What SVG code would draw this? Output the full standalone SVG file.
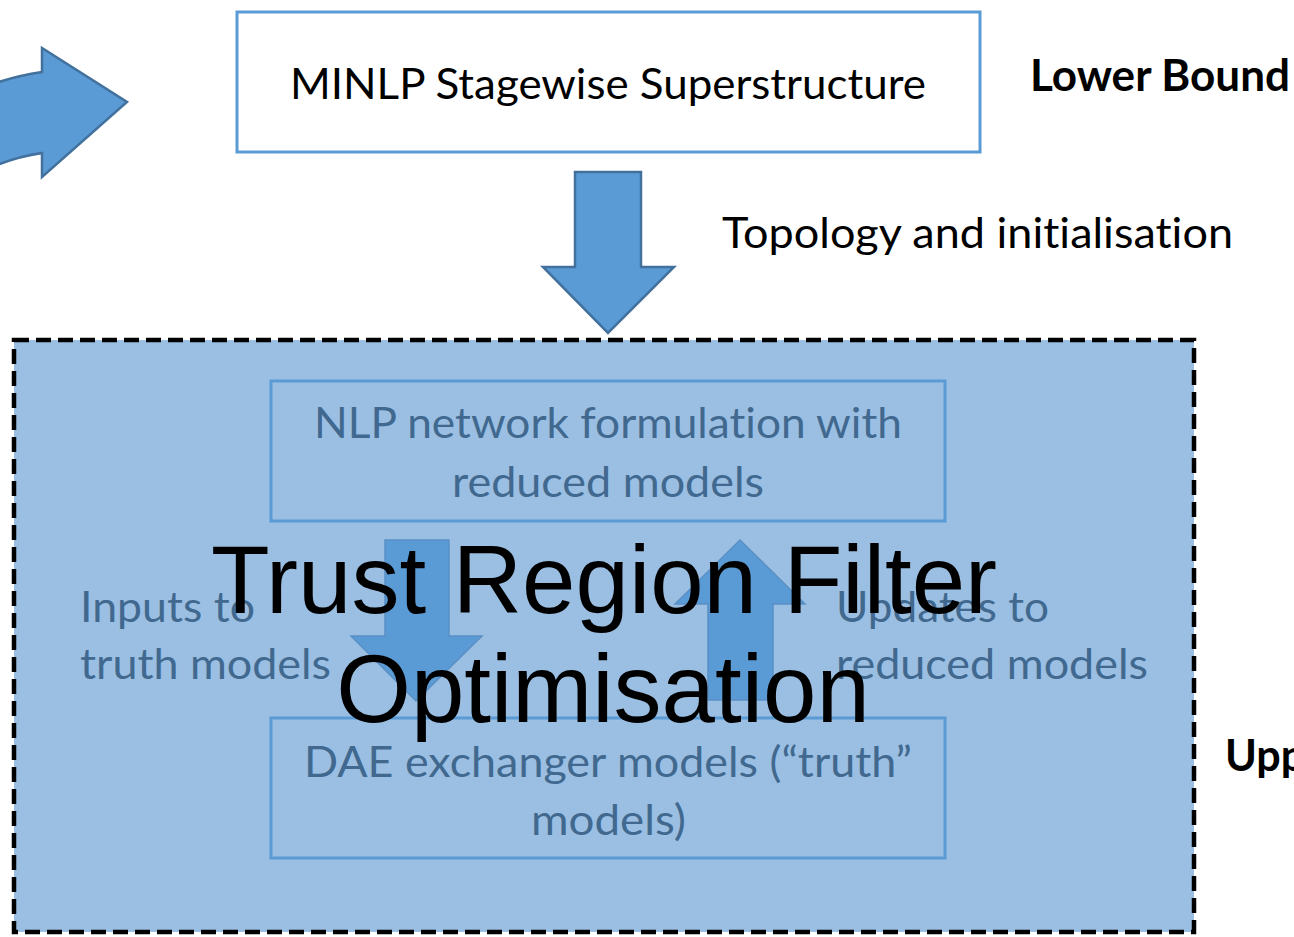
<svg xmlns="http://www.w3.org/2000/svg" width="1294" height="937" viewBox="0 0 1294 937">
  <style>
    .lbl { font-family: Lato, "Open Sans", "Liberation Sans", sans-serif; font-size: 43px; fill: #000; font-variant-ligatures: none; }
    .bold { font-weight: bold; }
    .dim { fill: #41698F; }
    .big { font-family: "Liberation Sans", Arial, sans-serif; font-size: 96px; fill: #000; text-anchor: middle; }
    .box { fill: #fff; stroke: #5B9BD5; stroke-width: 3; }
    .ibox { fill: none; stroke: #5B9BD5; stroke-width: 3; }
    .arrow { fill: #5B9BD5; stroke: #41719C; stroke-width: 2.5; stroke-linejoin: miter; }
    .iarrow { fill: #5B9BD5; stroke: #5A90C6; stroke-width: 1.5; }
  </style>

  <!-- incoming curved block arrow, partly off the left edge -->
  <g id="entry-arrow">
    <path class="arrow" d="M -10 85 Q 15 76 42 72 L 42 48 L 127 102 L 42 177 L 42 153 Q 15 157 -10 168 Z"/>
  </g>

  <!-- MINLP superstructure -->
  <g id="minlp">
    <rect class="box" x="237" y="12" width="743" height="140"/>
    <text class="lbl" x="290" y="99" textLength="636" lengthAdjust="spacingAndGlyphs">MINLP Stagewise Superstructure</text>
  </g>

  <g id="lower-bound">
    <text class="lbl bold" x="1030" y="91" textLength="260" lengthAdjust="spacingAndGlyphs">Lower Bound</text>
  </g>

  <!-- trust region filter block -->
  <g id="trf">
    <rect x="14" y="340" width="1180" height="592" fill="#9BBFE3" stroke="#000" stroke-width="4.5" stroke-dasharray="15 7"/>
  </g>

  <g id="nlp">
    <rect class="ibox" x="271" y="381" width="674" height="140"/>
    <text class="lbl dim" x="314" y="438" textLength="588" lengthAdjust="spacingAndGlyphs">NLP network formulation with</text>
    <text class="lbl dim" x="452" y="497" textLength="312" lengthAdjust="spacingAndGlyphs">reduced models</text>
  </g>

  <g id="dae">
    <rect class="ibox" x="271" y="718" width="674" height="140"/>
    <text class="lbl dim" x="304" y="777" textLength="608" lengthAdjust="spacingAndGlyphs">DAE exchanger models (“truth”</text>
    <text class="lbl dim" x="531" y="835" textLength="155" lengthAdjust="spacingAndGlyphs">models)</text>
  </g>

  <!-- connectors -->
  <g id="connectors">
    <path class="arrow" d="M 575 172 L 641 172 L 641 267 L 674 267 L 608 333 L 543 267 L 575 267 Z"/>
    <path class="iarrow" d="M 385 540 L 449 540 L 449 636 L 482 636 L 416 701 L 351 636 L 385 636 Z"/>
    <path class="iarrow" d="M 708 700 L 773 700 L 773 604 L 805 604 L 740 540 L 675 604 L 708 604 Z"/>
  </g>

  <g id="edge-labels">
    <text class="lbl" x="722" y="248" textLength="511" lengthAdjust="spacingAndGlyphs">Topology and initialisation</text>
    <text class="lbl dim" x="80" y="622" textLength="175" lengthAdjust="spacingAndGlyphs">Inputs to</text>
    <text class="lbl dim" x="80" y="679" textLength="251" lengthAdjust="spacingAndGlyphs">truth models</text>
    <text class="lbl dim" x="836" y="622" textLength="213" lengthAdjust="spacingAndGlyphs">Updates to</text>
    <text class="lbl dim" x="836" y="679" textLength="312" lengthAdjust="spacingAndGlyphs">reduced models</text>
  </g>

  <g id="trf-title">
    <text class="big" x="604" y="613">Trust Region Filter</text>
    <text class="big" x="603" y="722">Optimisation</text>
  </g>

  <g id="upper-bound">
    <text class="lbl bold" x="1225" y="771">Upper Bound</text>
  </g>
</svg>
